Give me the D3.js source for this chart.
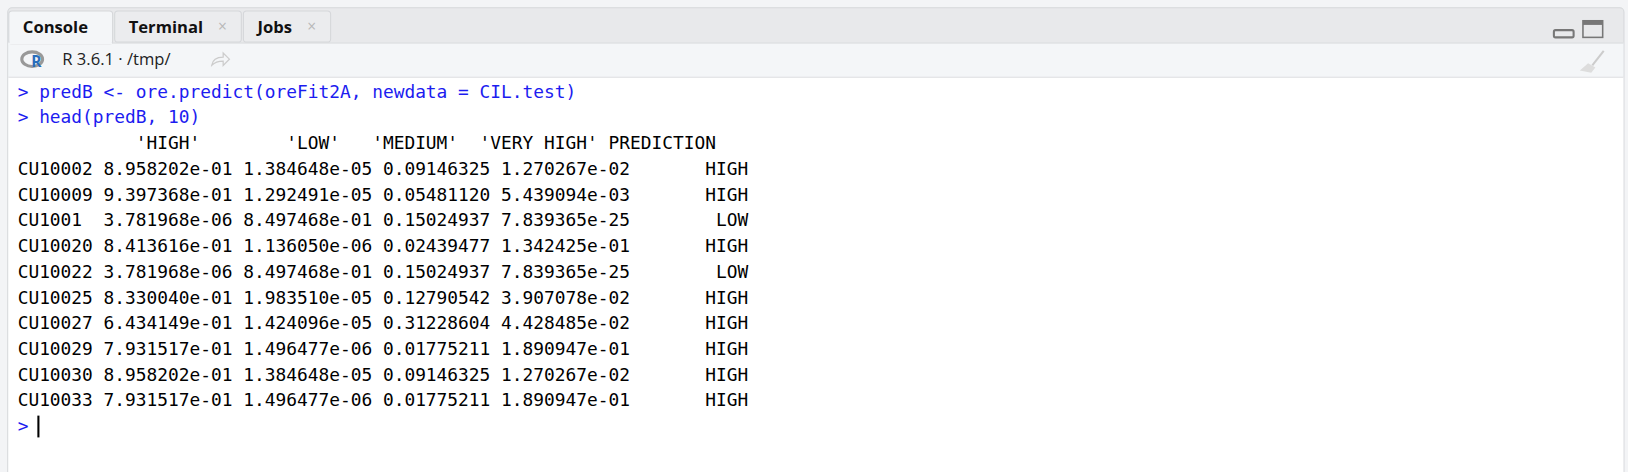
<!DOCTYPE html>
<html><head><meta charset="utf-8">
<script src="https://cdn.jsdelivr.net/npm/d3@7"></script>
<style>body{margin:0;background:#f3f4f6}svg{display:block}</style>
</head><body><div id="chart"></div>
<script>
const W=1628,H=472;
const commands=['predB <- ore.predict(oreFit2A, newdata = CIL.test)','head(predB, 10)'];
const header="           'HIGH'        'LOW'   'MEDIUM'  'VERY HIGH' PREDICTION";
const rowIds=['CU10002','CU10009','CU1001 ','CU10020','CU10022','CU10025','CU10027','CU10029','CU10030','CU10033'];
const colHigh=['8.958202e-01','9.397368e-01','3.781968e-06','8.413616e-01','3.781968e-06','8.330040e-01','6.434149e-01','7.931517e-01','8.958202e-01','7.931517e-01'];
const colLow=['1.384648e-05','1.292491e-05','8.497468e-01','1.136050e-06','8.497468e-01','1.983510e-05','1.424096e-05','1.496477e-06','1.384648e-05','1.496477e-06'];
const colMed=['0.09146325','0.05481120','0.15024937','0.02439477','0.15024937','0.12790542','0.31228604','0.01775211','0.09146325','0.01775211'];
const colVH=['1.270267e-02','5.439094e-03','7.839365e-25','1.342425e-01','7.839365e-25','3.907078e-02','4.428485e-02','1.890947e-01','1.270267e-02','1.890947e-01'];
const pred=['HIGH','HIGH','LOW','HIGH','LOW','HIGH','HIGH','HIGH','HIGH','HIGH'];
const tabs=[{name:'Console',close:false},{name:'Terminal',close:true},{name:'Jobs',close:true}];

const svg0=d3.select('#chart').append('svg').attr('width',W).attr('height',H);
const svg=svg0.append('g').attr('transform','scale(1.038)');
const mono='"DejaVu Sans Mono","Liberation Mono",monospace', sans='"Open Sans","Noto Sans",sans-serif';

// panel
svg.append('rect').attr('x',7.5).attr('y',7.5).attr('width',1557).attr('height',480).attr('rx',4)
  .attr('fill','#e8e9eb').attr('stroke','#d5d7da');
svg.append('rect').attr('x',8).attr('y',41).attr('width',1556).attr('height',33).attr('fill','#f4f6f8');
svg.append('line').attr('x1',8).attr('x2',1564).attr('y1',41.5).attr('y2',41.5).attr('stroke','#d5d7da');
svg.append('rect').attr('x',8).attr('y',74).attr('width',1556).attr('height',400).attr('fill','#fff');
svg.append('line').attr('x1',8).attr('x2',1564).attr('y1',74.5).attr('y2',74.5).attr('stroke','#dcdee1');

// tabs
const tabX=[8,110,234],tabW=[100,122,84];
const tg=svg.append('g');
tabs.forEach((t,i)=>{
  tg.append('rect').attr('x',tabX[i]+0.5).attr('y',10.5).attr('width',tabW[i]).attr('height',i?30:32).attr('rx',3)
    .attr('fill',i?'#ebecee':'#f4f6f8').attr('stroke','#d5d7da');
  tg.append('text').attr('x',tabX[i]+14).attr('y',32).attr('font-family',sans).attr('font-weight',700)
    .attr('font-size',16).attr('fill','#111').text(t.name);
  if(t.close) tg.append('text').attr('x',tabX[i]+tabW[i]-22).attr('y',31).attr('font-family',sans)
    .attr('font-size',15).attr('fill','#b8b8b8').text('×');
});
svg.append('rect').attr('x',8).attr('y',41).attr('width',100).attr('height',2).attr('fill','#f4f6f8');
// window icons
svg.append('rect').attr('x',1497).attr('y',29).attr('width',19).attr('height',7).attr('rx',1.5).attr('fill','none').attr('stroke','#777').attr('stroke-width',2);
svg.append('rect').attr('x',1525).attr('y',20).attr('width',19).attr('height',16).attr('fill','none').attr('stroke','#777').attr('stroke-width',1.5);
svg.append('rect').attr('x',1525).attr('y',20).attr('width',19).attr('height',4).attr('fill','#777');
// broom
svg.append('line').attr('x1',1545).attr('y1',49).attr('x2',1534).attr('y2',63).attr('stroke','#ccc').attr('stroke-width',2);
svg.append('path').attr('d','M1530,61 L1537,65 L1533,70 L1522,68 Z').attr('fill','#ddd');

// toolbar: R logo + path
svg.append('ellipse').attr('cx',31).attr('cy',57).attr('rx',10).attr('ry',7).attr('fill','none').attr('stroke','#999').attr('stroke-width',3);
svg.append('text').attr('x',30).attr('y',65).attr('font-family',sans).attr('font-weight',700).attr('font-size',15).attr('fill','#2a6ebb').text('R');
svg.append('text').attr('x',60).attr('y',63).attr('font-family',sans).attr('font-size',16).attr('fill','#222').text('R 3.6.1 · /tmp/');
svg.append('path').attr('d','M204,63 Q205,55 215,55 L215,51 L221,57 L215,63 L215,59 Q208,59 204,63 Z').attr('fill','none').attr('stroke','#ccc').attr('stroke-width',1.2);

// console text
const lines=[];
commands.forEach(c=>lines.push({t:'> '+c,c:'#1c1cf0'}));
lines.push({t:header,c:'#000'});
rowIds.forEach((id,i)=>lines.push({t:[id,colHigh[i],colLow[i],colMed[i],colVH[i]].join(' ')+pred[i].padStart(11),c:'#000'}));
lines.push({t:'> ',c:'#1c1cf0'});
const y=d3.scaleLinear().domain([0,1]).range([94,118.8]);
svg.append('g').selectAll('text').data(lines).join('text')
  .attr('x',17).attr('y',(d,i)=>y(i)).attr('font-family',mono).attr('font-size',17.2)
  .attr('fill',d=>d.c).attr('xml:space','preserve').style('white-space','pre').text(d=>d.t);
svg.append('rect').attr('x',36).attr('y',y(lines.length-1)-16).attr('width',2).attr('height',21).attr('fill','#000');
</script></body></html>
